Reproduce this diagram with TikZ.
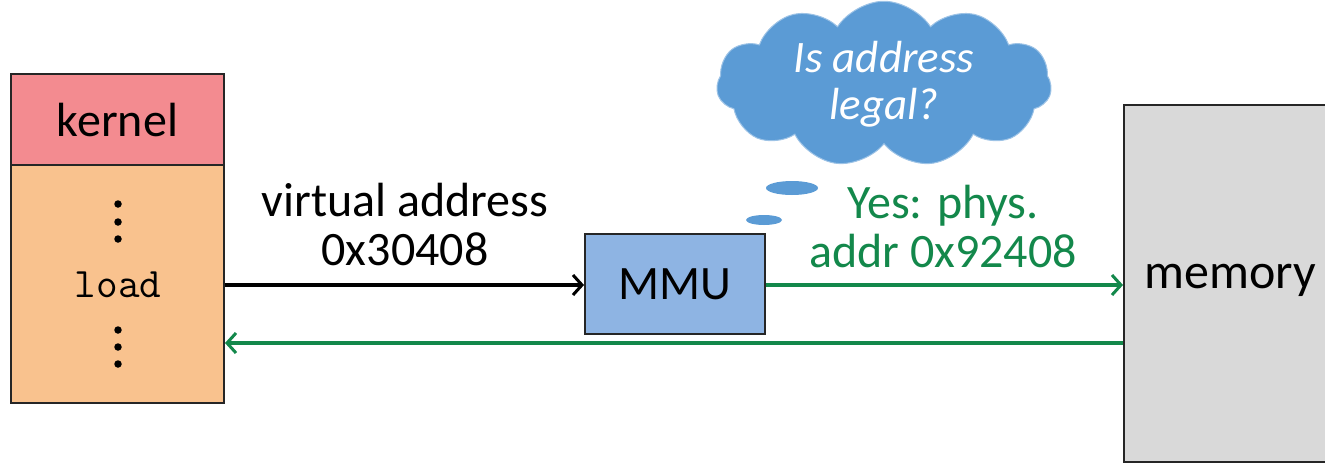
\documentclass[tikz,border=0pt]{standalone}
\usepackage{fontspec}
\setmainfont{Carlito}
\usetikzlibrary{arrows.meta,shapes}
\definecolor{kpink}{HTML}{F38B90}
\definecolor{uorange}{HTML}{F9C28E}
\definecolor{mmublue}{HTML}{8EB4E3}
\definecolor{cloudblue}{HTML}{5B9BD5}
\definecolor{okgreen}{HTML}{13884B}
\definecolor{memgray}{HTML}{D9D9D9}
\tikzstyle{box}=[rectangle,draw=black!85,line width=2pt,inner sep=0pt]
\tikzstyle{lbl}=[align=center,font=\fontsize{48}{49}\selectfont]
\tikzstyle{dotmark}=[circle,fill=black,inner sep=0pt,minimum size=7.5pt]
\tikzstyle{link}=[-{Straight Barb[length=9pt,width=20pt,line width=3pt]},line width=3.5pt]
\tikzstyle{bubble}=[ellipse,fill=cloudblue,inner sep=0pt]

\begin{document}
\begin{tikzpicture}[x=1pt,y=-1pt]
\useasboundingbox (0,0) rectangle (1325,463);
% process memory
\node[box,fill=kpink,minimum width=213pt,minimum height=91pt,lbl] (K) at (117.5,119.5) {kernel};
\node[box,fill=uorange,minimum width=213pt,minimum height=238pt] (P) at (117.5,284) {};
\foreach \y in {204,222,239,330,347,364}
  \node[dotmark] (d\y) at (118,\y) {};
\node[font=\fontsize{42}{44}\selectfont\ttfamily] (L) at (118,285) {load};
% mmu and memory
\node[box,fill=mmublue,minimum width=180pt,minimum height=100pt,lbl] (M) at (675,284) {MMU};
\node[box,fill=memgray,minimum width=212pt,minimum height=357pt] (R) at (1230,283.5) {};
\node[lbl,font=\fontsize{50}{52}\selectfont] (RL) at (1230,280) {memory};
% the question
\node[cloud,cloud puffs=11,cloud puff arc=115,aspect=2.6,inner sep=0pt,fill=cloudblue,draw=cloudblue!60,line width=1pt,
  minimum width=335pt,minimum height=120pt,lbl,text=white,font=\fontsize{45}{47}\selectfont\itshape] (Q) at (884,84) {Is address\\legal?};
\node[bubble,minimum width=52pt,minimum height=14pt] (B1) at (792,188) {};
\node[bubble,minimum width=36pt,minimum height=10pt] (B2) at (764,220) {};
% translation
\coordinate (P1) at (P.east |- 0,285);
\coordinate (M1) at (M.west |- 0,285);
\coordinate (M2) at (M.east |- 0,285);
\coordinate (R1) at (R.west |- 0,285);
\coordinate (R2) at (R.west |- 0,343);
\coordinate (P2) at (P.east |- 0,343);
\draw[link] (P1)--(M1);
\draw[link,okgreen] (M2)--(R1);
\draw[link,okgreen] (R2)--(P2);
\node[lbl] (VA) at (405,225) {virtual address\\0x30408};
\node[lbl,text=okgreen] (PA) at (943,227) {Yes: phys.\\addr 0x92408};
\end{tikzpicture}
\end{document}
